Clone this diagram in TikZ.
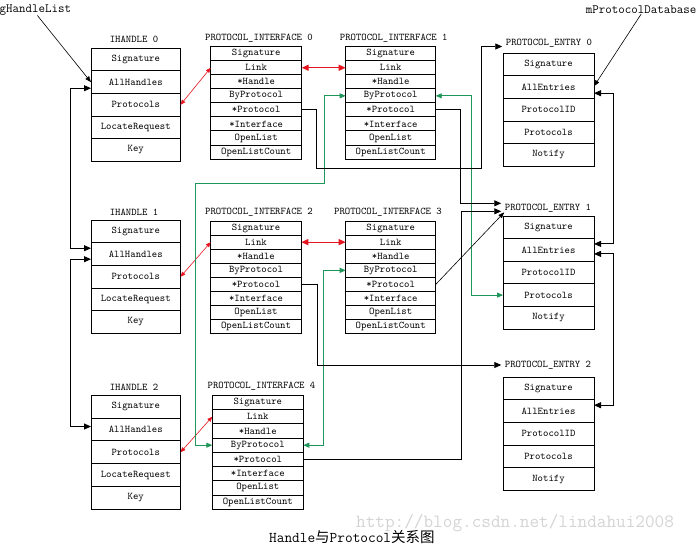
\documentclass[tikz,border=0pt]{standalone}
\usepackage{fontspec}
\newfontfamily\cjk{Noto Sans CJK SC}
\usetikzlibrary{arrows.meta,calc}
\definecolor{lred}{RGB}{230,20,30}
\definecolor{lgreen}{RGB}{30,150,90}
\definecolor{wm}{RGB}{212,212,212}
\newcommand{\mkstruct}[6]{%
  \foreach \lab [count=\i] in {#6} {%
    \node[cell,minimum width=#4pt,minimum height=#5pt] (#1-\i) at ({#2+#4/2},{#3+(\i-0.5)*#5}) {\lab};}}
\begin{document}
\begin{tikzpicture}[x=1pt,y=-1pt,
  cell/.style={draw,line width=0.9pt,inner sep=0pt,outer sep=0pt,font=\ttfamily\fontsize{10.25}{11}\selectfont},
  ttl/.style={inner sep=1.5pt,font=\ttfamily\fontsize{10.25}{11}\selectfont},
  lbl/.style={inner sep=0pt,font=\ttfamily\fontsize{12.6}{13}\selectfont},
  blk/.style={line width=0.9pt,-{Triangle[length=7pt,width=6pt]}},
  bblk/.style={line width=0.9pt,{Triangle[length=7pt,width=6pt]}-{Triangle[length=7pt,width=6pt]}},
  tarr/.style={line width=0.6pt,-{Triangle[length=6pt,width=4.5pt]}},
  rthin/.style={lred,line width=0.6pt,{Triangle[length=5pt,width=4pt]}-{Triangle[length=5pt,width=4pt]}},
  rthick/.style={lred,line width=1.3pt,{Triangle[length=7pt,width=6pt]}-{Triangle[length=7pt,width=6pt]}},
  garr/.style={lgreen,line width=0.9pt,{Triangle[length=6pt,width=5pt]}-{Triangle[length=6pt,width=5pt]}}
]
\fill[white] (0,0) rectangle (696,547);
\useasboundingbox (0,0) rectangle (696,547);

% structures
\mkstruct{h0}{91}{48.3}{89.5}{22.6}{Signature,AllHandles,Protocols,LocateRequest,Key}
\mkstruct{h1}{91}{220.3}{89.5}{22.6}{Signature,AllHandles,Protocols,LocateRequest,Key}
\mkstruct{h2}{91}{395.3}{89.5}{22.8}{Signature,AllHandles,Protocols,LocateRequest,Key}
\mkstruct{pi0}{210.7}{46.7}{91}{14.04}{Signature,Link,*Handle,ByProtocol,*Protocol,*Interface,OpenList,OpenListCount}
\mkstruct{pi1}{345.7}{46.7}{90}{14.04}{Signature,Link,*Handle,ByProtocol,*Protocol,*Interface,OpenList,OpenListCount}
\mkstruct{pi2}{210.7}{221}{90.6}{14.1}{Signature,Link,*Handle,ByProtocol,*Protocol,*Interface,OpenList,OpenListCount}
\mkstruct{pi3}{345.7}{221}{90}{14.1}{Signature,Link,*Handle,ByProtocol,*Protocol,*Interface,OpenList,OpenListCount}
\mkstruct{pi4}{212.3}{395.3}{91}{14.25}{Signature,Link,*Handle,ByProtocol,*Protocol,*Interface,OpenList,OpenListCount}
\mkstruct{pe0}{503}{53.3}{91}{22.6}{Signature,AllEntries,ProtocolID,Protocols,Notify}
\mkstruct{pe1}{503}{216}{91}{22.6}{Signature,AllEntries,ProtocolID,Protocols,Notify}
\mkstruct{pe2}{503}{377.3}{91}{22.6}{Signature,AllEntries,ProtocolID,Protocols,Notify}

% titles
\node[ttl] (h0t) at (134,39.5) {IHANDLE 0};
\node[ttl] (h1t) at (134,212) {IHANDLE 1};
\node[ttl] (h2t) at (134,387) {IHANDLE 2};
\node[ttl] (pi0t) at (259,38.3) {PROTOCOL\_INTERFACE 0};
\node[ttl] (pi1t) at (393.7,38.3) {PROTOCOL\_INTERFACE 1};
\node[ttl] (pi2t) at (259,211.7) {PROTOCOL\_INTERFACE 2};
\node[ttl] (pi3t) at (388,211.7) {PROTOCOL\_INTERFACE 3};
\node[ttl] (pi4t) at (261.5,386.5) {PROTOCOL\_INTERFACE 4};
\node[ttl] (pe0t) at (549,43.5) {PROTOCOL\_ENTRY 0};
\node[ttl] (pe1t) at (548,208.3) {PROTOCOL\_ENTRY 1};
\node[ttl] (pe2t) at (548,365) {PROTOCOL\_ENTRY 2};

% global labels
\node[lbl,anchor=west] (ghl) at (-0.5,10) {gHandleList};
\node[lbl,anchor=east] (mpd) at (696.5,10) {mProtocolDatabase};
\draw[tarr] ([xshift=2pt]ghl.south) -- (h0-2.west);
\draw[tarr] (mpd.south) -- ([yshift=1pt]pe0-2.east);

% handle list
\draw[bblk] ([yshift=-6pt]h0-2.west) -- ++(-20.5,0) |- ([yshift=6pt]h1-2.west);
\draw[bblk] ([yshift=-5pt]h1-2.west) -- ++(-20.5,0) |- ([yshift=3pt]h2-2.west);

% protocol entry list
\draw[bblk] ([yshift=-6pt]pe0-2.east) -- ++(19,0) |- ([yshift=6pt]pe1-2.east);
\draw[bblk] ([yshift=-4pt]pe1-2.east) -- ++(19,0) |- ([yshift=6pt]pe2-2.east);

% red links
\draw[rthin] (h0-3.east) -- (pi0-2.west);
\draw[rthin] (h1-3.east) -- (pi2-2.west);
\draw[rthin] (h2-3.east) -- (pi4-2.west);
\draw[rthick] (pi0-2.east) -- (pi1-2.west);
\draw[rthick] (pi2-2.east) -- (pi3-2.west);

% green links
\draw[garr] (pi1-4.east) -- ++(36,0) |- (pe1-4.west);
\draw[garr] (pi1-4.west) -- ++(-21,0) -- ++(0,88) -- ++(-129,0) |- (pi4-4.west);
\draw[garr] (pi3-4.west) -- ++(-22,0) |- (pi4-4.east);

% protocol pointers
\draw[blk] (pi0-5.east) -- ++(15,0) -- ++(0,59) -- ++(165,0) |- ([xshift=-2pt,yshift=-3pt]pe0t.west);
\draw[blk] (pi1-5.east) -- ++(25,0) |- ([xshift=-2pt,yshift=5pt]pe1t.west);
\draw[blk] (pi4-5.east) -- ++(158,0) |- ([xshift=-2pt,yshift=-3pt]pe1t.west);
\draw[tarr] (pi3-5.east) -- ([xshift=1pt,yshift=-4pt]pe1t.west);
\draw[blk] (pi2-5.east) -- ++(16,0) |- ([xshift=-2pt]pe2t.west);

% watermark and caption
\node[anchor=base west,inner sep=0pt,text=wm,font=\ttfamily\fontsize{18.7}{19}\selectfont] (wmk) at (356,527) {http://blog.csdn.net/lindahui2008};
\node[anchor=base west,inner sep=0pt,font=\ttfamily\fontsize{14.9}{16}\selectfont] (cap) at (269,542) {Handle{\cjk\fontsize{14.5}{16}\selectfont 与}Protocol{\cjk\fontsize{14.5}{16}\selectfont 关系图}};
\end{tikzpicture}
\end{document}
